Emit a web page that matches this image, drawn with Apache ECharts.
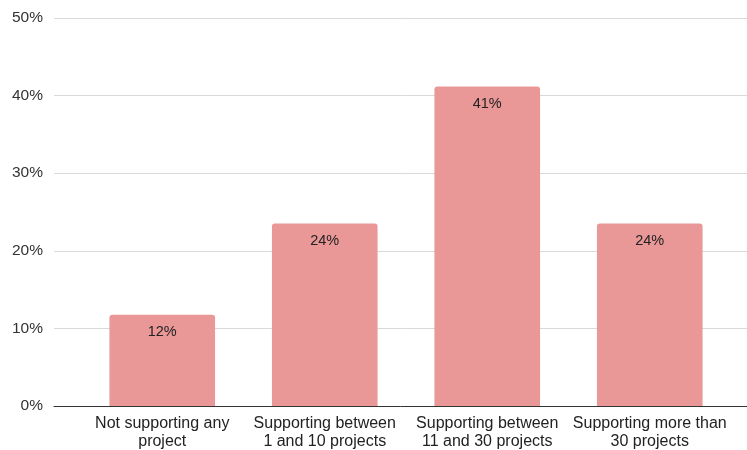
<!DOCTYPE html>
<html><head><meta charset="utf-8">
<script src="https://cdn.jsdelivr.net/npm/echarts@6/dist/echarts.min.js"></script>
<style>html,body{margin:0;padding:0;background:#fff}#c{width:747px;height:450px}</style>
</head><body><div id="c"></div>
<script>
const categories = ["Not supporting any\nproject", "Supporting between\n1 and 10 projects", "Supporting between\n11 and 30 projects", "Supporting more than\n30 projects"];
const values = [11.76, 23.53, 41.18, 23.53];
const yTicks = [0, 10, 20, 30, 40, 50];

const chart = echarts.init(document.getElementById('c'), null, {renderer: 'canvas'});
const font = "'Liberation Sans', Arial, sans-serif";
chart.setOption({
  animation: false,
  textStyle: {fontFamily: font},
  grid: [
    {left: 54, right: 0, top: 18, bottom: 44, containLabel: false},
    {left: 81, right: 16, top: 18, bottom: 44, containLabel: false}
  ],
  xAxis: [
    {gridIndex: 0, type: 'category', data: [''], axisLine: {show: true, lineStyle: {color: '#333', width: 1}}, axisTick: {show: false}, axisLabel: {show: false}, splitLine: {show: false}, z: 5},
    {gridIndex: 1, type: 'category', data: categories, axisLine: {show: false}, axisTick: {show: false},
     axisLabel: {interval: 0, color: '#222', fontSize: 16, lineHeight: 17.5, margin: 9, fontFamily: font}}
  ],
  yAxis: [
    {gridIndex: 0, type: 'value', min: yTicks[0], max: yTicks[yTicks.length-1], interval: 10,
     axisLine: {show: false}, axisTick: {show: false},
     axisLabel: {formatter: v => v + '%', color: '#333', fontSize: 15.5, margin: 11, fontFamily: font},
     splitLine: {lineStyle: {color: '#d9d9d9', width: 1}}},
    {gridIndex: 1, type: 'value', min: yTicks[0], max: yTicks[yTicks.length-1], interval: 10, show: false, splitLine: {show: false}}
  ],
  series: [{
    type: 'bar', xAxisIndex: 1, yAxisIndex: 1, data: values, barWidth: '65%',
    itemStyle: {color: '#e99797', borderRadius: [3, 3, 0, 0]},
    label: {show: true, position: 'insideTop', distance: 10, color: '#222', fontSize: 14.5, fontFamily: font,
            formatter: p => Math.round(p.value) + '%'}
  }]
});
</script></body></html>
